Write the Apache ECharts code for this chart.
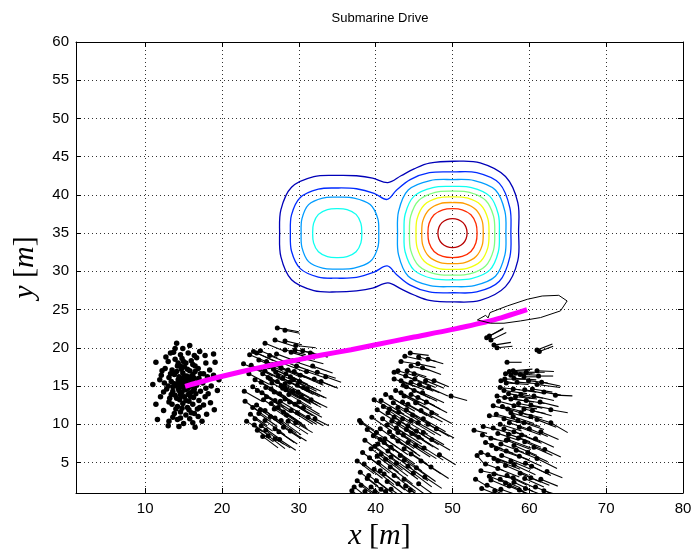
<!DOCTYPE html>
<html><head><meta charset="utf-8">
<script src="https://cdn.jsdelivr.net/npm/echarts@6/dist/echarts.min.js"></script>
<style>html,body{margin:0;padding:0;background:#fff}#c{width:694px;height:553px}</style>
</head><body><div id="c"></div>
<script>
// ---------- data ----------
const xTickLabels = [10,20,30,40,50,60,70,80];
const yTickLabels = [5,10,15,20,25,30,35,40,45,50,55,60];

// jet colours for contour levels 0 (lowest) .. 8 (highest)
const levelColors = ['#0000b8','#002bff','#009cff','#0effF1','#80ff80','#f1ff0e','#ff9c00','#ff2b00','#b80000'];

// contour outlines
const contourNavy = [[41.6,41.6],[43.3,42.5],[45.0,43.4],[47.0,44.15],[50.2,44.4],[53.6,44.2],[56.9,42.4],[58.5,39.0],[58.6,35.2],[58.5,31.4],[56.9,28.0],[53.6,26.2],[50.2,26.0],[47.0,26.2],[45.0,26.9],[43.3,27.7],[41.6,28.5],[39.6,27.8],[37.5,27.45],[35.0,27.3],[31.96,27.48],[29.05,28.89],[27.67,31.88],[27.5,35.0],[27.67,38.06],[29.05,41.0],[31.96,42.38],[35.0,42.55],[37.5,42.5],[39.6,42.2]];
const contourBlue = [[41.5,39.4],[42.7,40.6],[44.5,42.0],[47.0,42.9],[50.1,43.0],[53.15,42.9],[56.1,41.5],[57.47,38.3],[57.6,35.1],[57.47,31.9],[56.1,28.7],[53.15,27.3],[50.1,27.2],[47.0,27.3],[44.5,28.2],[42.7,29.6],[41.5,30.7],[39.8,29.9],[37.5,29.2],[35.0,29.1],[32.54,29.25],[30.19,30.35],[29.05,32.62],[28.9,35.0],[29.05,37.38],[30.19,39.65],[32.54,40.75],[35.0,40.9],[37.5,40.8],[39.8,40.2]];
const contourLeftDodger = [[40.4,35],[40.28,36.9],[39.29,38.73],[37.19,39.59],[35,39.7],[33.1,39.59],[31.27,38.73],[30.41,36.9],[30.3,35],[30.41,33.1],[31.27,31.27],[33.1,30.41],[35,30.3],[37.19,30.41],[39.29,31.27],[40.28,33.1]];
const contourLeftCyan = [[38.2,35],[38.08,36.28],[37.45,37.45],[36.28,38.08],[35,38.2],[33.72,38.08],[32.55,37.45],[31.92,36.28],[31.8,35],[31.92,33.72],[32.55,32.55],[33.72,31.92],[35,31.8],[36.28,31.92],[37.45,32.55],[38.08,33.72]];
const contourRightDodger = [[56.95,35],[56.82,37.85],[55.59,40.64],[52.83,41.87],[50,42],[47.09,41.87],[44.24,40.64],[42.98,37.85],[42.85,35],[42.98,32.15],[44.24,29.36],[47.09,28.13],[50,28],[52.83,28.13],[55.59,29.36],[56.82,32.15]];
const contourRightCyan = [[56.1,35],[55.96,37.47],[54.84,39.84],[52.47,40.96],[50,41.1],[47.45,40.96],[45.0,39.84],[43.84,37.47],[43.7,35],[43.84,32.53],[45.0,30.16],[47.45,29.04],[50,28.9],[52.47,29.04],[54.84,30.16],[55.96,32.53]];
const contourGreen = [[55.5,35],[55.34,37.22],[54.3,39.3],[52.22,40.34],[50,40.5],[47.74,40.34],[45.63,39.3],[44.56,37.22],[44.4,35],[44.56,32.78],[45.63,30.7],[47.74,29.66],[50,29.5],[52.22,29.66],[54.3,30.7],[55.34,32.78]];
const contourYellow = [[54.75,35],[54.6,36.9],[53.68,38.68],[51.9,39.6],[50,39.75],[48.1,39.6],[46.32,38.68],[45.4,36.9],[45.25,35],[45.4,33.1],[46.32,31.32],[48.1,30.4],[50,30.25],[51.9,30.4],[53.68,31.32],[54.6,33.1]];
const contourOrange = [[54,35],[53.86,36.6],[53.06,38.06],[51.6,38.86],[50,39],[48.4,38.86],[46.94,38.06],[46.14,36.6],[46,35],[46.14,33.4],[46.94,31.94],[48.4,31.14],[50,31],[51.6,31.14],[53.06,31.94],[53.86,33.4]];
const contourRed = [[53.2,35],[53.05,36.26],[52.4,37.4],[51.26,38.05],[50,38.2],[48.74,38.05],[47.6,37.4],[46.95,36.26],[46.8,35],[46.95,33.74],[47.6,32.6],[48.74,31.95],[50,31.8],[51.26,31.95],[52.4,32.6],[53.05,33.74]];
const contourDarkRed = [[51.9,35],[51.77,35.735],[51.37,36.37],[50.735,36.77],[50,36.9],[49.265,36.77],[48.63,36.37],[48.23,35.735],[48.1,35],[48.23,34.265],[48.63,33.63],[49.265,33.23],[50,33.1],[50.735,33.23],[51.37,33.63],[51.77,34.265]];
const contourLines = [
  [0, contourNavy],[1, contourBlue],[2, contourLeftDodger],[3, contourLeftCyan],
  [2, contourRightDodger],[3, contourRightCyan],[4, contourGreen],[5, contourYellow],
  [6, contourOrange],[7, contourRed],[8, contourDarkRed]
];

// particle cloud (no velocity)
const cloudPoints = [[14.1,20.6],[14.9,19.9],[13.7,19.4],[14.6,19.1],[15.6,19.3],[17.1,19.5],[18.9,19.2],[11.4,18.1],[13.0,18.2],[13.9,18.5],[14.8,18.6],[15.3,18.0],[16.0,18.3],[16.5,17.6],[17.9,18.0],[19.1,18.1],[12.6,17.3],[13.5,17.1],[14.2,17.6],[14.7,17.2],[15.1,17.5],[15.8,17.0],[16.9,17.3],[17.6,16.6],[18.4,17.1],[12.1,16.4],[13.1,16.1],[13.8,16.5],[14.4,16.2],[14.9,16.7],[15.4,16.3],[16.2,16.5],[17.0,16.0],[18.1,16.2],[11.0,15.2],[12.5,15.4],[13.4,15.6],[14.0,15.1],[14.6,15.5],[15.0,15.0],[15.5,15.3],[16.1,15.6],[16.7,15.1],[17.5,15.4],[18.6,15.0],[12.8,14.6],[13.6,14.3],[14.3,14.7],[14.8,14.2],[15.3,14.5],[15.9,14.1],[16.4,14.6],[17.2,14.3],[18.2,14.0],[19.4,14.4],[12.0,13.6],[13.2,13.4],[13.9,13.8],[14.5,13.2],[15.1,13.6],[15.7,13.0],[16.3,13.5],[17.0,13.1],[17.8,13.6],[13.5,12.6],[14.2,12.3],[14.9,12.7],[15.5,12.2],[16.2,12.6],[16.8,12.0],[17.6,12.5],[18.5,12.8],[12.4,11.8],[13.8,11.4],[14.6,11.6],[15.3,11.2],[16.0,11.5],[16.9,11.0],[19.0,11.9],[11.6,10.6],[13.1,10.4],[14.2,10.6],[15.0,10.1],[15.8,10.7],[17.4,10.4],[14.4,9.7],[13.0,9.8],[16.5,9.6],
  [14.3,15.8],[14.7,16.0],[15.2,15.7],[15.7,15.9],[14.4,14.4],[15.0,14.8],[15.6,14.7],[16.0,15.0],[13.8,15.3],[14.5,14.9],[15.3,16.0],[15.9,16.2],[14.1,16.9],[14.6,17.6],[15.5,17.2],[16.2,17.8],[13.3,16.6],[13.0,15.0],[13.4,13.9],[14.1,13.4],[14.7,13.7],[15.3,13.1],[15.9,13.6],[16.6,14.0],[16.9,15.6],[17.2,16.6],[16.4,16.0],[14.8,12.1],[15.7,11.9],[14.0,12.0],[13.1,12.9],[16.4,11.4],[17.1,12.2],[17.9,14.7],[18.9,16.4],[12.4,14.2],[11.9,15.8],[12.2,17.0],[13.9,19.9],[16.4,19.0],[15.8,20.3],[17.8,19.0],[16.2,10.2],[14.6,10.8],[13.6,10.9],[18.0,11.3],[19.6,15.8],[11.4,12.6],[12.7,18.8],[13.3,19.3],[14.3,18.0],[15.0,18.2],[16.7,18.7],
  [14.9,15.4],[15.4,14.9],[14.2,15.3],[15.8,15.3],[15.1,16.3],[14.6,13.9],[15.6,13.9],[16.5,16.9],[13.6,14.9],[16.3,14.4]];

// particles with velocity vectors [x, y, u, v]
const swarmB = [[27.2,22.6,2.8,-0.5],[28.2,22.3,1.9,-0.4],[28.2,20.9,2.2,-0.5],[25.6,20.6,2.4,-1.0],[29.6,20.3,2.6,-0.3],[24.1,19.5,2.6,-1.2],[24.5,19.3,3.0,-1.3],[25.0,19.6,2.2,-0.9],[27.1,19.2,2.9,-1.1],[28.2,19.7,2.7,-0.6],[29.0,19.4,3.1,-0.9],[29.5,19.7,2.5,-0.4],[30.5,19.6,3.2,-0.8],[26.2,19.0,3.4,-1.4],[31.5,19.3,2.3,-0.5],[24.8,18.4,3.2,-1.5],[25.8,18.2,3.0,-1.2],[27.8,18.0,3.4,-1.3],[29.2,18.3,3.0,-1.0],[30.6,18.6,2.6,-0.7],[23.8,17.7,2.8,-1.4],[26.6,17.8,3.5,-1.6],[25.6,17.0,3.3,-1.7],[26.7,17.2,3.6,-1.6],[27.7,17.4,3.1,-1.3],[28.6,17.1,3.0,-1.2],[29.4,16.9,3.2,-1.4],[26.0,16.1,3.4,-1.9],[27.3,16.3,3.6,-1.8],[28.3,16.6,2.9,-1.4],[30.2,16.4,3.0,-1.3],[24.3,15.8,2.8,-1.5],[32.0,15.9,2.8,-1.1],[32.9,15.6,2.2,-0.9],[31.0,16.9,2.6,-0.9],[25.1,15.5,3.2,-1.9],[26.5,15.4,3.5,-2.0],[27.7,15.0,3.3,-1.9],[28.8,15.5,3.1,-1.6],[29.8,15.1,2.9,-1.5],[26.4,14.6,3.4,-2.1],[27.9,14.7,3.6,-1.9],[30.6,14.8,2.7,-1.3],[24.0,14.9,2.6,-1.6],[29.2,14.3,3.2,-1.8],[23.0,13.0,2.2,-1.6],[24.5,12.5,2.6,-1.8],[25.8,13.6,3.0,-2.0],[26.9,13.1,3.3,-2.1],[28.2,13.3,3.1,-1.9],[29.5,12.6,2.8,-1.7],[27.5,14.0,3.4,-2.2],[25.2,14.1,2.9,-1.9],[30.3,13.6,2.6,-1.4],[28.7,13.9,3.0,-1.8],[25.6,11.8,2.7,-2.0],[27.3,12.2,3.1,-2.1],[29.0,11.8,2.8,-1.8],[31.2,10.9,2.0,-1.1],[32.1,10.7,1.8,-0.9],[23.2,10.4,2.1,-1.4],[27.7,10.5,2.6,-1.9],[26.3,11.0,2.9,-2.1],[28.4,11.2,2.7,-1.8],[24.8,11.4,2.4,-1.7],[25.1,9.8,2.4,-1.7],[26.9,9.4,2.5,-1.8],[26.0,8.5,2.2,-1.7],[26.9,8.1,2.0,-1.2],[28.0,9.6,2.3,-1.5],[24.6,9.2,2.1,-1.5],
  [24.9,17.3,3.0,-1.6],[25.3,16.6,3.2,-1.8],[26.1,17.5,3.3,-1.5],[27.0,16.8,3.5,-1.7],[27.9,16.0,3.4,-1.8],[28.9,16.2,3.1,-1.5],[29.7,17.6,2.9,-1.0],[26.3,15.9,3.6,-2.0],[27.2,15.6,3.5,-1.9],[28.2,15.3,3.2,-1.8],[29.3,15.8,3.0,-1.5],[30.1,15.6,2.8,-1.3],[24.6,14.4,2.8,-1.8],[25.7,14.8,3.3,-2.0],[26.8,14.2,3.5,-2.1],[28.3,14.5,3.3,-1.9],[29.9,14.2,2.9,-1.6],[31.1,14.6,2.5,-1.2],[25.4,13.2,3.0,-2.0],[26.4,12.7,3.2,-2.1],[27.6,13.0,3.3,-2.0],[28.8,12.9,3.0,-1.8],[30.0,12.9,2.7,-1.6],[24.0,12.2,2.4,-1.7],[25.0,11.9,2.7,-1.9],[26.8,12.0,3.0,-2.0],[28.0,11.6,2.9,-1.9],[29.8,11.5,2.5,-1.5],[30.6,12.2,2.4,-1.3],[24.3,10.7,2.3,-1.6],[25.6,10.5,2.6,-1.9],[26.9,10.8,2.8,-2.0],[28.6,10.4,2.6,-1.7],[29.6,10.2,2.2,-1.3],[23.7,11.3,2.2,-1.5],[24.2,9.9,2.2,-1.6],[25.7,9.2,2.3,-1.8],[27.4,9.0,2.4,-1.6],[28.9,9.1,2.1,-1.3],[25.3,8.4,2.0,-1.5],[27.5,8.0,2.1,-1.4],[23.5,16.6,2.7,-1.4],[22.9,14.3,2.3,-1.3],[31.8,17.6,2.6,-0.9],[32.4,16.8,2.4,-0.8],[33.5,16.2,2.0,-0.7],[31.6,13.2,2.1,-1.0],[26.9,21.0,2.5,-0.8],[23.6,19.1,2.8,-1.2],[22.8,17.9,2.6,-1.2]];
const swarmC = [[43.3,18.2,2.6,-0.4],[44.6,17.6,2.3,-0.5],[45.5,17.9,2.3,-0.5],[46.1,17.4,2.4,-0.9],[42.4,16.8,2.5,-0.9],[43.9,16.3,2.9,-1.2],[42.4,15.9,2.8,-1.0],[43.3,15.7,3.0,-1.2],[44.6,15.5,2.9,-1.2],[45.7,15.2,2.6,-1.1],[46.5,15.7,2.4,-1.0],[47.6,15.7,1.9,-0.8],[44.0,14.9,3.1,-1.5],[41.3,13.9,2.9,-1.7],[39.8,13.2,3.2,-1.8],[42.0,13.5,3.1,-1.8],[43.7,13.7,3.2,-1.7],[45.0,14.4,3.0,-1.4],[45.5,13.5,2.9,-1.5],[44.2,12.6,3.2,-1.8],[49.8,13.7,2.1,-0.6],[46.6,12.9,2.7,-1.4],[42.9,12.2,3.0,-1.9],[41.6,11.5,3.0,-2.0],[42.4,10.9,3.1,-2.1],[38.1,10.2,1.8,-1.2],[37.9,10.5,1.9,-1.3],[43.5,10.7,3.3,-2.0],[44.2,9.8,3.2,-2.0],[45.5,10.2,3.0,-1.7],[46.8,10.0,2.8,-1.6],[43.0,11.6,2.9,-1.6],[44.8,11.2,3.1,-1.8],[41.0,12.3,2.7,-1.9],[45.9,11.8,2.8,-1.5],[40.6,9.4,2.9,-2.1],[41.8,9.0,3.2,-2.2],[42.7,9.5,3.3,-2.1],[43.6,8.6,3.1,-2.0],[39.7,8.5,2.7,-2.0],[41.2,8.1,3.0,-2.1],[44.7,8.8,2.8,-1.8],[45.6,8.3,2.6,-1.6],[47.3,8.0,2.4,-1.4],[40.3,7.4,2.8,-2.1],[41.1,7.6,3.0,-2.2],[42.0,7.0,3.1,-2.2],[42.9,7.8,2.9,-2.0],[43.7,6.8,3.0,-2.0],[39.4,6.8,2.5,-1.9],[40.7,6.1,2.8,-2.1],[42.0,5.7,2.9,-2.1],[44.6,6.1,2.7,-1.8],[45.9,5.2,2.6,-1.7],[47.2,4.4,2.3,-1.5],[38.6,7.9,2.3,-1.7],[41.6,6.5,3.1,-2.3],[43.2,5.9,2.8,-2.0],[39.8,4.1,2.6,-2.0],[41.1,3.5,2.7,-2.1],[42.4,3.3,2.8,-2.1],[43.7,2.8,2.6,-1.9],[38.5,4.8,2.4,-1.9],[40.4,5.0,2.7,-2.1],[41.9,4.4,2.9,-2.2],[44.9,3.6,2.4,-1.8],[37.2,1.8,2.0,-1.6],[38.1,2.0,2.2,-1.7],[39.4,1.8,2.4,-1.8],[40.7,1.5,2.5,-1.9],[42.0,1.5,2.5,-1.8],[38.9,2.9,2.3,-1.8],[40.1,2.6,2.6,-2.0],[36.9,1.3,1.8,-1.4],[45.6,2.2,2.2,-1.6],
  [42.9,17.0,2.6,-0.8],[44.1,17.0,2.5,-0.8],[45.0,16.6,2.6,-1.0],[43.6,15.1,3.0,-1.3],[45.1,15.9,2.7,-1.1],[46.9,14.8,2.5,-1.1],[42.6,14.4,3.1,-1.6],[43.3,14.1,3.2,-1.6],[44.6,13.9,3.1,-1.5],[46.1,14.1,2.8,-1.3],[40.7,13.1,3.0,-1.8],[42.3,12.8,3.2,-1.9],[43.5,12.9,3.2,-1.8],[45.2,12.8,3.0,-1.6],[40.2,11.9,2.8,-1.8],[41.8,12.0,3.1,-1.9],[44.0,11.9,3.2,-1.9],[47.3,11.5,2.6,-1.4],[42.1,10.4,3.2,-2.1],[43.0,10.1,3.3,-2.1],[44.6,10.5,3.1,-1.9],[46.2,10.7,2.9,-1.7],[40.9,10.7,2.9,-2.0],[39.5,10.9,2.6,-1.8],[41.5,9.9,3.1,-2.1],[42.9,8.9,3.2,-2.2],[44.0,9.3,3.2,-2.0],[45.3,9.1,2.9,-1.8],[46.2,8.9,2.7,-1.6],[40.1,8.9,2.8,-2.0],[38.9,9.3,2.5,-1.8],[42.2,8.4,3.1,-2.2],[40.6,8.0,2.9,-2.1],[44.2,7.6,2.9,-1.9],[45.2,7.2,2.7,-1.7],[46.3,6.9,2.5,-1.6],[39.9,7.1,2.7,-2.0],[38.3,6.3,2.4,-1.8],[39.2,5.6,2.6,-2.0],[40.2,5.8,2.8,-2.1],[41.3,5.4,2.9,-2.2],[42.7,4.9,2.8,-2.1],[43.7,5.3,2.7,-1.9],[44.2,4.5,2.6,-1.9],[45.3,4.3,2.5,-1.8],[37.6,5.2,2.2,-1.7],[38.0,3.7,2.3,-1.8],[39.1,3.3,2.5,-1.9],[40.6,3.9,2.7,-2.0],[41.5,2.5,2.6,-2.0],[42.9,2.2,2.5,-1.9],[43.9,1.9,2.3,-1.7],[37.6,2.6,2.1,-1.6],[38.6,1.2,2.1,-1.6],[39.9,1.2,2.3,-1.7],[41.3,1.2,2.4,-1.8],[44.5,1.4,2.2,-1.5],[46.4,3.1,2.2,-1.5],[47.9,9.4,2.3,-1.2],[48.3,6.0,2.1,-1.3],
  [44.5,19.3,2.4,-0.3],[45.6,18.8,2.3,-0.6],[43.8,18.9,2.2,-0.5],[46.8,18.5,2.0,-0.6]];
const swarmD = [[54.45,21.3,2.2,1.3],[54.8,21.55,1.8,0.9],[55.0,21.0,2.0,1.0],[55.4,20.35,2.2,0.35],[55.8,20.0,2.0,0.2],[61.0,19.7,2.0,0.8],[61.3,19.5,1.8,0.7],[57.1,18.1,1.9,0.0],[57.4,16.9,2.6,0.1],[57.6,16.4,2.8,0.2],[58.2,16.7,2.5,0.0],[58.8,16.5,2.6,-0.1],[59.3,16.2,2.2,0.0],[58.0,16.0,2.9,-0.2],[61.0,17.0,2.2,-0.1],[61.2,16.3,1.9,0.0],[56.8,15.9,2.7,0.0],[56.3,15.7,2.2,-0.4],[61.0,15.2,3.0,-0.4],[61.6,15.5,2.4,-0.5],[63.4,13.8,2.2,-0.1],[56.7,14.4,3.0,-0.4],[57.3,14.0,3.2,-0.6],[57.6,13.3,3.0,-0.4],[58.2,13.6,2.8,-0.3],[58.9,13.9,2.9,-0.5],[59.6,13.1,2.4,-0.4],[58.0,12.4,3.0,-0.4],[58.6,12.7,3.1,-0.6],[59.3,12.0,2.8,-0.6],[60.2,12.5,2.6,-0.5],[62.8,11.9,2.2,-0.4],[57.2,12.0,2.6,-0.8],[56.0,13.0,2.3,-0.6],[54.8,11.1,1.7,-0.2],[56.7,10.7,2.6,-0.6],[57.9,11.0,2.7,-0.9],[59.3,10.2,2.6,-0.9],[62.8,10.2,2.2,-1.3],[58.5,10.5,2.9,-0.8],[60.2,11.0,2.3,-0.7],[52.8,9.2,1.7,-0.4],[56.7,9.4,3.0,-0.9],[58.0,9.0,3.4,-1.3],[57.3,8.7,2.8,-1.0],[59.0,8.6,2.6,-1.1],[60.0,9.4,2.4,-1.0],[55.0,8.15,2.2,-0.5],[56.3,7.4,3.0,-1.1],[58.0,7.2,3.0,-1.3],[57.0,7.9,3.2,-1.2],[55.7,6.8,2.8,-1.0],[59.4,7.7,2.7,-1.2],[60.6,7.0,2.4,-1.1],[53.2,5.9,1.1,-1.3],[53.7,6.3,1.7,-0.65],[55.4,5.5,3.0,-0.9],[57.6,5.2,2.6,-1.1],[61.0,5.5,2.6,-1.3],[56.4,5.9,3.1,-1.2],[58.7,5.8,2.9,-1.3],[59.5,4.9,2.7,-1.3],[56.9,4.6,3.0,-1.3],[55.9,4.2,2.8,-1.1],[53.7,3.9,2.2,-0.45],[55.4,3.5,2.6,-0.65],[57.1,3.3,2.6,-1.3],[53.0,2.8,1.5,-0.9],[54.5,2.0,2.0,-0.9],[56.3,1.5,2.2,-0.8],[58.0,2.4,2.5,-1.2],[61.5,2.8,2.2,-0.9],[61.9,1.3,1.9,-0.6],[58.8,3.6,2.7,-1.2],[60.2,3.0,2.4,-1.0],[55.0,2.7,2.4,-1.0],[57.4,1.9,2.3,-1.0],[59.5,1.6,2.0,-0.8],
  [56.9,16.6,2.8,0.1],[57.9,17.0,2.5,0.2],[59.6,16.8,2.4,0.0],[57.0,15.4,2.9,-0.2],[58.4,15.5,2.8,-0.2],[59.9,15.7,2.5,-0.3],[60.4,14.6,2.6,-0.4],[56.2,14.8,2.6,-0.3],[57.9,14.6,3.0,-0.4],[59.4,14.5,2.7,-0.5],[55.8,13.7,2.5,-0.5],[56.8,13.5,3.0,-0.5],[60.6,13.7,2.6,-0.6],[61.9,14.2,2.2,-0.4],[55.3,12.4,2.4,-0.6],[56.5,12.3,2.8,-0.7],[57.6,11.5,2.9,-0.8],[58.9,11.5,2.8,-0.7],[60.4,11.8,2.5,-0.7],[61.4,12.9,2.4,-0.6],[55.7,11.3,2.5,-0.7],[56.2,10.0,2.8,-0.9],[57.4,10.2,2.9,-1.0],[58.7,9.6,2.8,-1.0],[61.0,10.6,2.5,-1.0],[61.5,9.0,2.3,-1.0],[55.3,9.5,2.4,-0.8],[55.9,8.8,2.7,-0.9],[57.2,8.0,3.0,-1.1],[58.6,8.2,2.9,-1.2],[60.8,8.1,2.4,-1.1],[54.3,7.6,2.2,-0.8],[55.1,7.2,2.8,-1.0],[57.0,6.5,3.0,-1.2],[58.3,6.6,2.9,-1.2],[59.8,6.3,2.6,-1.2],[54.6,6.0,2.6,-1.0],[55.9,5.2,2.9,-1.1],[58.0,4.7,2.8,-1.3],[60.3,4.5,2.5,-1.2],[54.3,4.8,2.4,-0.9],[54.8,3.2,2.4,-1.0],[56.2,2.8,2.6,-1.1],[57.9,3.0,2.6,-1.2],[59.4,2.9,2.5,-1.1],[53.8,1.6,2.0,-0.8],[55.5,1.3,2.1,-0.9],[56.9,2.3,2.4,-1.1],[58.7,1.4,2.1,-0.9],[60.8,1.8,2.1,-0.9],[62.3,3.8,2.0,-0.8],[62.0,6.7,2.1,-1.0],[54.0,9.7,2.0,-0.5],[53.9,8.6,1.9,-0.6]];

// submarine path and outline
const drivePath = [[15.2,14.95],[18,15.75],[21,16.5],[24,17.2],[27,17.85],[30,18.45],[33,19.05],[36.8,19.75],[40,20.4],[45,21.4],[50,22.4],[55,23.55],[59.7,25.0]];
const hullOutline = [[53.24,23.64],[54.32,24.25],[54.63,23.9],[54.88,24.6],[57.13,25.47],[59.73,26.34],[61.67,26.77],[63.83,26.86],[64.92,26.12],[64.05,24.82],[61.46,23.95],[58.86,23.51],[56.7,23.21],[54.97,23.21],[53.24,23.64]];

// ---------- chart ----------
const chart = echarts.init(document.getElementById('c'), null, {renderer: 'canvas'});
const FONT = 'Liberation Sans';
const black = '#000';

function contourSeries(level, pts) {
  return {
    type: 'custom', data: pts, encode: {x: 0, y: 1}, silent: true, z: 2,
    renderItem: function (params, api) {
      if (params.dataIndex !== 0) return null;
      return {
        type: 'polygon',
        shape: {points: pts.map(p => api.coord(p)), smooth: 0.35},
        style: {fill: 'none', stroke: levelColors[level], lineWidth: 1.3}
      };
    }
  };
}
function quiverSeries(arr) {
  return {
    type: 'custom', data: arr, encode: {x: 0, y: 1}, clip: true, silent: true, z: 3,
    renderItem: function (params, api) {
      const x = api.value(0), y = api.value(1), u = api.value(2), v = api.value(3);
      const a = api.coord([x, y]), b = api.coord([x + u, y + v]);
      return {type: 'line', shape: {x1: a[0], y1: a[1], x2: b[0], y2: b[1]},
              style: {stroke: black, lineWidth: 1.1}};
    }
  };
}
function dotSeries(pts, size) {
  return {type: 'scatter', data: pts.map(p => [p[0], p[1]]), symbol: 'circle', symbolSize: size,
          itemStyle: {color: black, opacity: 1}, silent: true, z: 3, clip: true};
}

const nameRich = {
  i: {fontFamily: 'Liberation Serif', fontStyle: 'italic', fontSize: 30, color: black},
  r: {fontFamily: 'Liberation Serif', fontSize: 30, color: black}
};
function axisCommon(isX, show) {
  const ticks = isX ? xTickLabels : yTickLabels;
  return {
    type: 'value', min: 1, max: isX ? 80 : 60,
    minInterval: isX ? 10 : 5, maxInterval: isX ? 10 : 5,
    axisLine: {show: true, onZero: false, lineStyle: {color: black, width: 1}},
    axisTick: {show: true, inside: true, length: 5, lineStyle: {color: black, width: 1}},
    axisLabel: {show: show, color: black, fontFamily: FONT, fontSize: 15, margin: isX ? 8 : 7,
      formatter: v => (ticks.indexOf(v) >= 0 ? String(v) : '')},
    splitLine: {show: show, lineStyle: {color: '#333', width: 1, type: [1, 3]}}
  };
}

const series = [];
contourLines.forEach(c => series.push(contourSeries(c[0], c[1])));
series.push(dotSeries(cloudPoints, 5.5));
[swarmB, swarmC, swarmD].forEach(s => { series.push(quiverSeries(s)); series.push(dotSeries(s, 5)); });
series.push({type: 'line', data: drivePath, smooth: 0.3, symbol: 'none', silent: true, z: 5,
             lineStyle: {color: '#ff00ff', width: 5, cap: 'butt'}});
series.push({type: 'line', data: hullOutline, smooth: false, symbol: 'none', silent: true, z: 6,
             lineStyle: {color: black, width: 1}});

chart.setOption({
  animation: false,
  backgroundColor: '#fff',
  title: {text: 'Submarine Drive', left: 380, top: 12, textAlign: 'center', padding: 0,
          textStyle: {fontFamily: FONT, fontSize: 13, fontWeight: 'normal', color: black}},
  grid: {left: 76, right: 11, top: 42, bottom: 60, containLabel: false, outerBoundsMode: 'none'},
  xAxis: [
    Object.assign(axisCommon(true, true), {position: 'bottom',
      name: '{i|x}{r| [}{i|m}{r|]}', nameLocation: 'middle', nameGap: 28,
      nameTextStyle: {rich: nameRich}}),
    Object.assign(axisCommon(true, false), {position: 'top'})
  ],
  yAxis: [
    Object.assign(axisCommon(false, true), {position: 'left',
      name: '{i|y}{r| [}{i|m}{r|]}', nameLocation: 'middle', nameGap: 36, nameRotate: 90,
      nameTextStyle: {rich: nameRich}}),
    Object.assign(axisCommon(false, false), {position: 'right'})
  ],
  series: series.map(s => Object.assign(s, {xAxisIndex: 0, yAxisIndex: 0}))
});
</script></body></html>
